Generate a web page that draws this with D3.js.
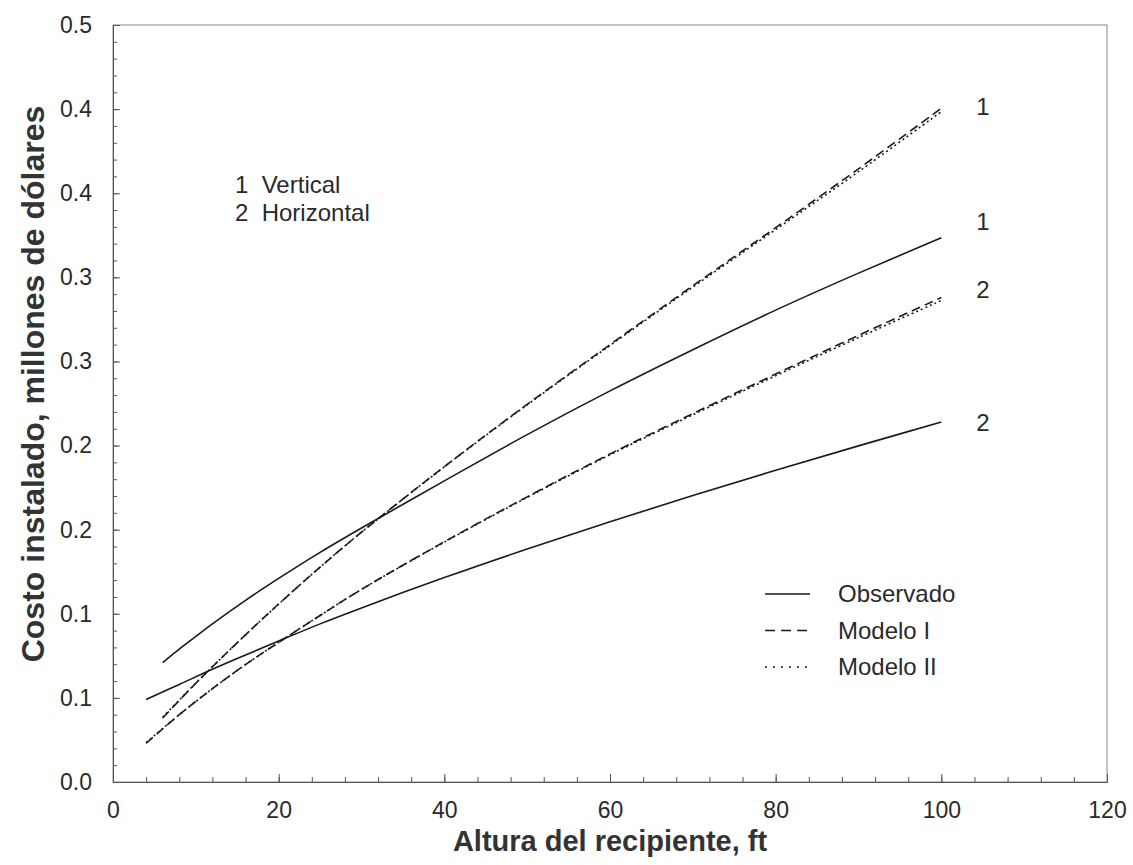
<!DOCTYPE html>
<html>
<head>
	<meta charset="utf-8">
	<style>
		body {
			margin: 0;
			background-color: white;
			font-family: Arial, "Liberation Sans", sans-serif;
		}
		svg {
			display: block;
			background-color: white;
		}
		.axis path {
			stroke: #555;
			stroke-width: 1px;
		}
		.axis line {
			stroke: #555;
			stroke-width: 1px;
		}
		.axis text {
			font-family: Arial, "Liberation Sans", sans-serif;
			font-size: 23px;
			fill: #2a2a2a;
		}
		.minor path {
			display: none;
		}
		.frame {
			fill: none;
			stroke: #888;
			stroke-width: 1px;
		}
		.axis-title {
			font-size: 29px;
			font-weight: bold;
			fill: #333;
		}
		.curve {
			fill: none;
			stroke: #1a1a1a;
			stroke-width: 1.6px;
		}
		.dashed {
			stroke-dasharray: 9, 5;
		}
		.dotted {
			stroke-dasharray: 2, 3;
		}
		.note {
			font-size: 24px;
			fill: #2a2a2a;
		}
	</style>
</head>
<body>
<script src="https://d3js.org/d3.v7.min.js"></script>

<script>
	// x = altura (ft), y = costo (millones de dolares)
	var xVertical = [6, 8, 10, 12, 16, 20, 25, 30, 40, 50, 60, 70, 80, 90, 100];
	var xHorizontal = [4, 8, 12, 16, 20, 25, 30, 40, 50, 60, 70, 80, 90, 100];

	var observadoVertical = [0.071, 0.079, 0.0865, 0.094, 0.108, 0.121, 0.1365, 0.151, 0.179, 0.2065, 0.2325, 0.257, 0.2805, 0.3025, 0.3235];
	var modeloIVertical = [0.038, 0.0485, 0.0587, 0.0685, 0.0875, 0.1058, 0.1277, 0.1485, 0.1875, 0.2245, 0.260, 0.295, 0.3295, 0.3645, 0.4005];
	var modeloIIVertical = [0.0385, 0.0487, 0.0588, 0.0685, 0.0875, 0.1058, 0.1277, 0.1485, 0.1873, 0.2242, 0.2595, 0.2942, 0.3284, 0.3628, 0.3985];

	var observadoHorizontal = [0.049, 0.058, 0.067, 0.0755, 0.0838, 0.094, 0.1035, 0.1215, 0.1385, 0.1547, 0.1703, 0.1853, 0.1998, 0.214];
	var modeloIHorizontal = [0.023, 0.040, 0.0555, 0.0698, 0.083, 0.099, 0.1145, 0.1428, 0.1695, 0.195, 0.219, 0.2425, 0.2655, 0.288];
	var modeloIIHorizontal = [0.0235, 0.040, 0.0555, 0.0698, 0.083, 0.099, 0.1145, 0.1426, 0.1692, 0.1945, 0.2183, 0.2415, 0.2642, 0.2862];

	var xTickValues = [0, 20, 40, 60, 80, 100, 120];
	var xTickLabels = ["0", "20", "40", "60", "80", "100", "120"];
	var yTickValues = [0, 0.05, 0.10, 0.15, 0.20, 0.25, 0.30, 0.35, 0.40, 0.45];
	var yTickLabels = ["0.0", "0.1", "0.1", "0.2", "0.2", "0.3", "0.3", "0.4", "0.4", "0.5"];

	var seriesNames = ["Observado", "Modelo I", "Modelo II"];
	var seriesStyles = ["solid", "dashed", "dotted"];
	var typeLabels = ["1  Vertical", "2  Horizontal"];

	var width = 1133,
		height = 865,
		margin = {top: 25, right: 26, bottom: 83, left: 113};

	var svg = d3.select("body").append("svg")
			.attr("width", width)
			.attr("height", height);

	var xScale = d3.scaleLinear()
		.domain([0, 120])
		.range([margin.left, width - margin.right]);
	var yScale = d3.scaleLinear()
		.domain([0, 0.45])
		.range([height - margin.bottom, margin.top]);

	// frame (top and right sides)
	svg.append("rect")
			.attr("class", "frame")
			.attr("x", xScale(0))
			.attr("y", yScale(0.45))
			.attr("width", xScale(120) - xScale(0))
			.attr("height", yScale(0) - yScale(0.45));

	// minor ticks
	svg.append("g")
			.attr("class", "axis minor")
			.attr("transform", "translate(0," + yScale(0) + ")")
			.call(d3.axisBottom(xScale).tickValues(d3.range(0, 121, 4)).tickSize(-5).tickFormat(""));
	svg.append("g")
			.attr("class", "axis minor")
			.attr("transform", "translate(" + xScale(0) + ",0)")
			.call(d3.axisLeft(yScale).tickValues(d3.range(0, 46).map(function(i) { return i / 100; })).tickSize(-4).tickFormat(""));

	// major ticks + labels
	svg.append("g")
			.attr("class", "axis x")
			.attr("transform", "translate(0," + yScale(0) + ")")
			.call(d3.axisBottom(xScale)
				.tickValues(xTickValues)
				.tickSize(-8)
				.tickPadding(20)
				.tickFormat(function(d, i) { return xTickLabels[i]; }));
	svg.append("g")
			.attr("class", "axis y")
			.attr("transform", "translate(" + xScale(0) + ",0)")
			.call(d3.axisLeft(yScale)
				.tickValues(yTickValues)
				.tickSize(-7)
				.tickPadding(21)
				.tickFormat(function(d, i) { return yTickLabels[i]; }));

	svg.append("text")
			.attr("class", "axis-title")
			.attr("text-anchor", "middle")
			.attr("x", 610)
			.attr("y", 851)
			.text("Altura del recipiente, ft");
	svg.append("text")
			.attr("class", "axis-title")
			.attr("text-anchor", "middle")
			.attr("transform", "translate(44,384) rotate(-90)")
			.style("font-size", "32px")
			.text("Costo instalado, millones de dólares");

	var line = d3.line()
		.x(function(d) { return xScale(d[0]); })
		.y(function(d) { return yScale(d[1]); })
		.curve(d3.curveCatmullRom.alpha(0.5));

	function pairs(xs, ys) {
		return xs.map(function(x, i) { return [x, ys[i]]; });
	}

	var curves = [
		{data: pairs(xVertical, observadoVertical), style: "solid"},
		{data: pairs(xVertical, modeloIVertical), style: "dashed"},
		{data: pairs(xVertical, modeloIIVertical), style: "dotted"},
		{data: pairs(xHorizontal, observadoHorizontal), style: "solid"},
		{data: pairs(xHorizontal, modeloIHorizontal), style: "dashed"},
		{data: pairs(xHorizontal, modeloIIHorizontal), style: "dotted"}
	];

	svg.append("g").selectAll("path")
			.data(curves)
		.enter().append("path")
			.attr("class", function(d) { return "curve " + d.style; })
			.attr("d", function(d) { return line(d.data); });

	// end labels (1 = vertical, 2 = horizontal), placed by the end of each curve
	var endLabels = [
		{text: "1", v: modeloIVertical[modeloIVertical.length - 1], dy: 7},
		{text: "1", v: observadoVertical[observadoVertical.length - 1], dy: -8},
		{text: "2", v: modeloIHorizontal[modeloIHorizontal.length - 1], dy: 0},
		{text: "2", v: observadoHorizontal[observadoHorizontal.length - 1], dy: 9}
	];
	svg.append("g").selectAll("text")
			.data(endLabels)
		.enter().append("text")
			.attr("class", "note")
			.attr("text-anchor", "middle")
			.attr("x", 983)
			.attr("y", function(d) { return yScale(d.v) + d.dy; })
			.text(function(d) { return d.text; });

	// type key
	svg.append("g").selectAll("text")
			.data(typeLabels)
		.enter().append("text")
			.attr("class", "note")
			.attr("x", 235)
			.attr("y", function(d, i) { return 193 + i * 28; })
			.attr("xml:space", "preserve")
			.style("white-space", "pre")
			.text(function(d) { return d; });

	// line style legend
	var legend = svg.append("g")
			.attr("transform", "translate(765,594)");
	var items = legend.selectAll("g")
			.data(seriesNames)
		.enter().append("g")
			.attr("transform", function(d, i) { return "translate(0," + (i * 36.5) + ")"; });
	items.append("line")
			.attr("class", function(d, i) { return "curve " + seriesStyles[i]; })
			.attr("x1", 0)
			.attr("x2", 45)
			.attr("y1", 0)
			.attr("y2", 0)
			.style("stroke-dasharray", function(d, i) { return i == 1 ? "10,6" : (i == 2 ? "2,6" : null); });
	items.append("text")
			.attr("class", "note")
			.attr("x", 73)
			.attr("y", 8)
			.text(function(d) { return d; });
</script>
</body>
</html>
